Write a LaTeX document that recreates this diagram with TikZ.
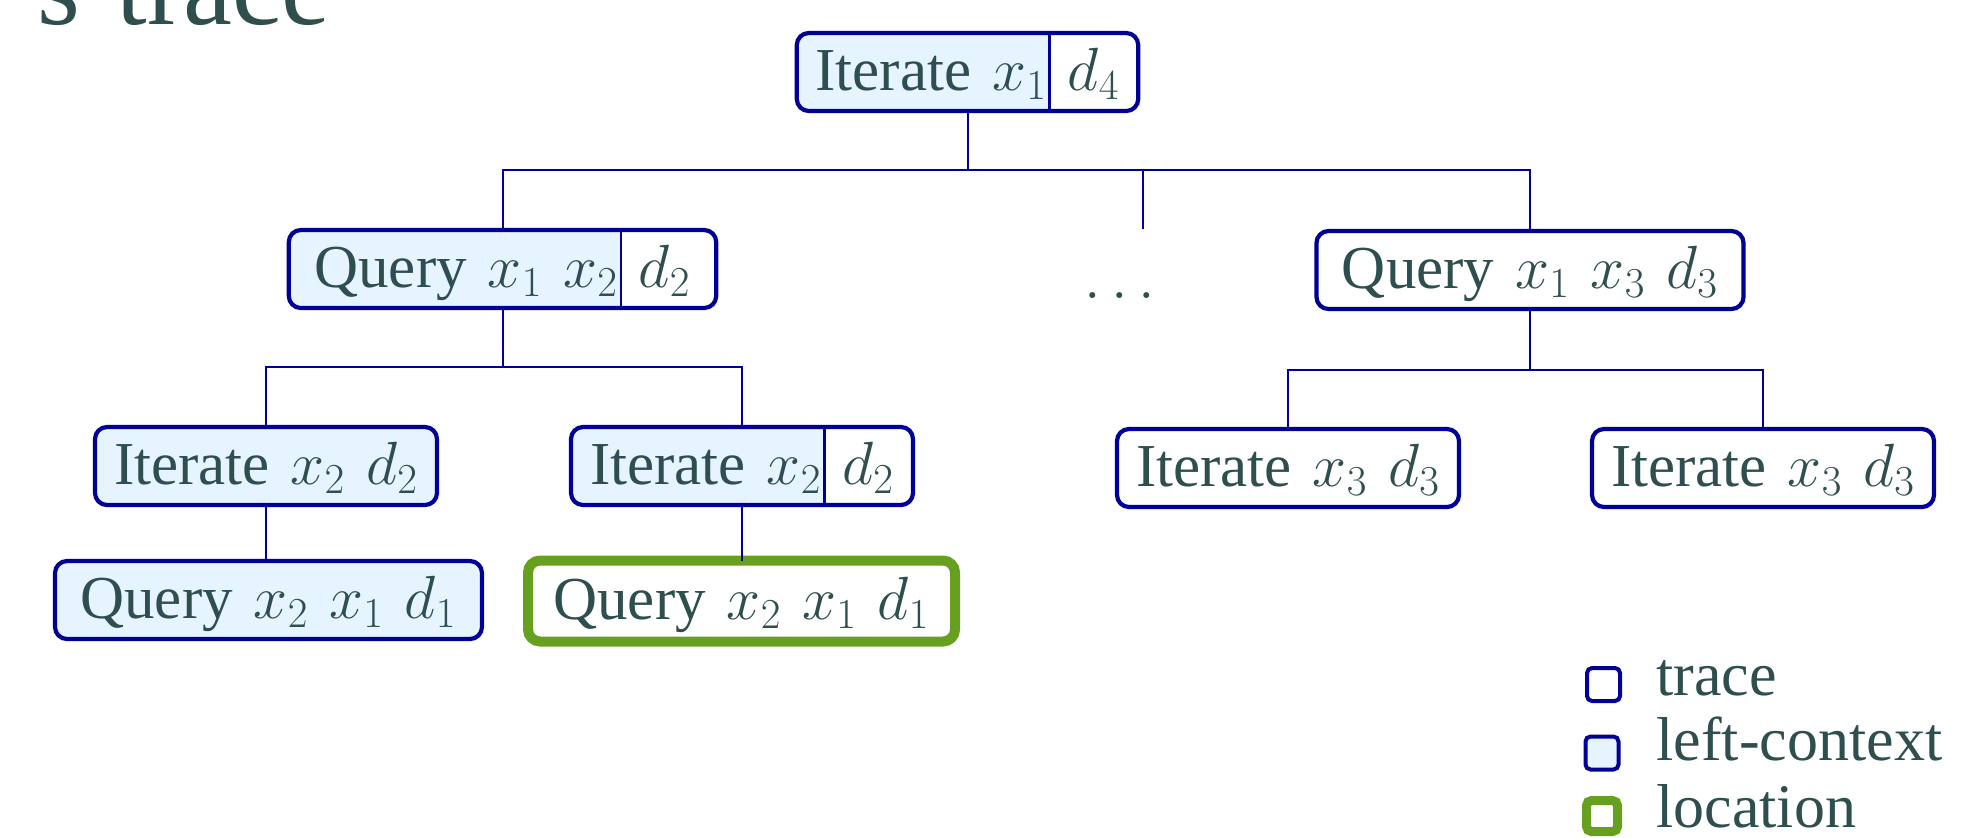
\RequirePackage{fix-cm}
\documentclass[tikz,border=0pt]{standalone}
\usepackage[no-math]{fontspec}
\setmainfont{Liberation Serif}
\usetikzlibrary{calc}

\definecolor{txt}{RGB}{47,79,79}
\definecolor{navy}{RGB}{0,0,150}
\definecolor{ctx}{RGB}{230,244,255}
\definecolor{loc}{RGB}{102,160,30}

\newcommand\boxfont{\fontsize{30.5}{36}\selectfont\spaceskip=10.5pt\relax}
\newcommand\headfont{\fontsize{55}{60}\selectfont\spaceskip=18pt\relax}

\newlength\fullw
\newlength\leftw
\newlength\divoff

\tikzset{
  tbox/.style={draw=navy, line width=2.1pt, rounded corners=6pt, fill=white,
    text=txt, font=\boxfont, inner xsep=0pt, inner ysep=3.5pt,
    text height=25pt, text depth=7pt, outer sep=0pt},
  ctxbox/.style={tbox, fill=ctx},
  locbox/.style={tbox, draw=loc, line width=5pt, inner ysep=4.25pt},
  iterw/.style={minimum width=171pt},
  queryw/.style={minimum width=213.5pt},
  conn/.style={draw=navy, line width=1pt},
  divider/.style={draw=navy, line width=1.4pt},
  ctxpart/.style={path picture={\fill[ctx, sharp corners]
      (path picture bounding box.south west) rectangle
      ([xshift=\divoff]path picture bounding box.north west);}},
  legsq/.style={draw=navy, line width=2pt, rounded corners=2.5pt,
    minimum size=16.5pt, inner sep=0pt, outer sep=0pt, fill=white},
  legtxt/.style={text=txt, font=\fontsize{31}{36}\selectfont,
    anchor=base west, inner sep=0pt},
}

% offset of the divider from the west border of a split box
% #1 key, #2 box width, #3 left part, #4 right part
\newcommand\measuresplit[4]{%
  \settowidth\fullw{\boxfont #3 #4}%
  \settowidth\leftw{\boxfont #3}%
  \expandafter\xdef\csname divoff#1\endcsname{\the\dimexpr #2/2-\fullw/2+\leftw+1.5pt\relax}%
}

% box whose left part (the left context) is shaded, with a divider
% #1 name, #2 position, #3 width, #4 left part, #5 right part
\newcommand\splitnode[5]{%
  \setlength\divoff{\csname divoff#1\endcsname}%
  \node[tbox, minimum width=#3, ctxpart] (#1) at (#2) {#4 #5};
  \draw[divider] ([xshift=\divoff]#1.north west) -- ([xshift=\divoff]#1.south west);
}

\begin{document}
\measuresplit{top}{170.7pt}{Iterate $x_1$}{$d_4$}%
\measuresplit{q12}{213.7pt}{Query $x_1$ $x_2$}{$d_2$}%
\measuresplit{it2b}{171pt}{Iterate $x_2$}{$d_2$}%
\begin{tikzpicture}[x=0.5pt, y=-0.5pt]
  \path[use as bounding box] (0,0) rectangle (1980,837);
  \fill[white] (0,0) rectangle (1980,837);
  \clip (0,0) rectangle (1980,837);

  % heading, cut by the top edge
  \node[anchor=base west, inner sep=0pt, text=txt, font=\headfont] (title) at (37.5,24) {s trace};

  % tree of calls
  \splitnode{top}{967.5,72}{170.7pt}{Iterate $x_1$}{$d_4$}
  \splitnode{q12}{502.5,269}{213.7pt}{Query $x_1$ $x_2$}{$d_2$}
  \node[tbox, queryw] (q13) at (1530,270) {Query $x_1$ $x_3$ $d_3$};
  \node[anchor=base, inner sep=0pt, text=txt, font=\boxfont] (dots) at (1120,298) {$\ldots$};
  \node[ctxbox, iterw] (it2a) at (266,466) {Iterate $x_2$ $d_2$};
  \splitnode{it2b}{742,466}{171pt}{Iterate $x_2$}{$d_2$}
  \node[tbox, iterw] (it3a) at (1288,468) {Iterate $x_3$ $d_3$};
  \node[tbox, iterw] (it3b) at (1763,468) {Iterate $x_3$ $d_3$};
  \node[ctxbox, queryw] (q21a) at (268.5,600) {Query $x_2$ $x_1$ $d_1$};
  \node[locbox, queryw] (q21b) at (741.5,601) {Query $x_2$ $x_1$ $d_1$};

  % connectors
  \coordinate (bar1) at (0,170);
  \coordinate (bar2) at (0,367);
  \coordinate (bar3) at (0,370);
  \coordinate (dotlink) at (1143,229);
  \draw[conn] (top.south) -- (top.south |- bar1);
  \draw[conn] (q12.north) |- (q13.north |- bar1) -- (q13.north);
  \draw[conn] (dotlink) -- (dotlink |- bar1);
  \draw[conn] (q12.south) -- (q12.south |- bar2);
  \draw[conn] (it2a.north) |- (it2b.north |- bar2) -- (it2b.north);
  \draw[conn] (q13.south) -- (q13.south |- bar3);
  \draw[conn] (it3a.north) |- (it3b.north |- bar3) -- (it3b.north);
  \draw[conn] (it2a.south) -- (it2a.south |- q21a.north);
  \draw[conn] (it2b.south) -- (it2b.south |- q21b.north);

  % legend
  \node[legsq] (lgtrace) at (1603.5,684.5) {};
  \node[legtxt] (lgtracet) at (1656,695) {trace};
  \node[legsq, fill=ctx] (lgctx) at (1602,753) {};
  \node[legtxt] (lgctxt) at (1656,760) {left-context};
  \node[legsq, draw=loc, line width=4.5pt, minimum size=15.5pt] (lgloc) at (1602,816) {};
  \node[legtxt] (lgloct) at (1656,827) {location};
\end{tikzpicture}
\end{document}
